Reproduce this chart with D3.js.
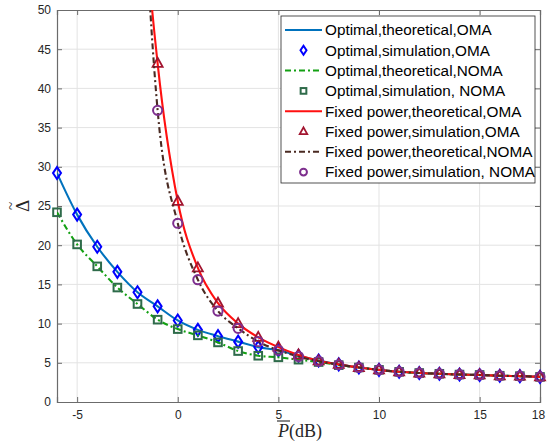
<!DOCTYPE html>
<html><head><meta charset="utf-8">
<script src="https://cdn.jsdelivr.net/npm/d3@7"></script>
<style>body{margin:0;background:#fff}svg{display:block}</style>
</head><body>
<svg id="c" width="548" height="442"></svg>
<script>
// ---- data ----
const xOpt = [-6,-5,-4,-3,-2,-1,0,1,2,3,4,5,6,7,8,9,10,11,12,13,14,15,16,17,18];
const optOMA  = [29.2,23.9,19.8,16.6,14.0,12.2,10.4,9.2,8.4,7.7,7.0,6.6,5.9,5.3,4.8,4.4,4.1,3.85,3.7,3.6,3.5,3.45,3.35,3.3,3.2];
const optNOMA = [24.2,20.1,17.3,14.6,12.5,10.5,9.3,8.5,7.6,6.5,5.9,5.7,5.4,5.1,4.7,4.4,4.1,3.85,3.7,3.6,3.5,3.45,3.35,3.3,3.2];
const xFixedSim = [-1,0,1,2,3,4,5,6,7,8,9,10,11,12,13,14,15,16,17,18];
const fixedOMASim  = [43.2,25.6,17.1,12.6,10.0,8.25,7.0,6.0,5.25,4.8,4.4,4.1,3.85,3.7,3.6,3.5,3.45,3.35,3.3,3.2];
const fixedNOMASim = [37.2,22.8,15.6,11.6,9.4,7.7,6.6,5.8,5.2,4.75,4.4,4.1,3.85,3.7,3.6,3.5,3.45,3.35,3.3,3.2];
const xFixedTheory = [-2,-1.5,-1,0,1,2,3,4,5,6,7,8,9,10,11,12,13,14,15,16,17,18];
const fixedOMATheory  = [80,57,43.2,25.6,17.1,12.6,10.0,8.25,7.0,6.0,5.25,4.8,4.4,4.1,3.85,3.7,3.6,3.5,3.45,3.35,3.3,3.2];
const fixedNOMATheory = [85,56,37.2,22.8,15.6,11.6,9.4,7.7,6.6,5.8,5.2,4.75,4.4,4.1,3.85,3.7,3.6,3.5,3.45,3.35,3.3,3.2];
const xTicks = [-5,0,5,10,15,18];
const yTicks = [0,5,10,15,20,25,30,35,40,45,50];
const legendLabels = ["Optimal,theoretical,OMA","Optimal,simulation,OMA","Optimal,theoretical,NOMA","Optimal,simulation, NOMA",
  "Fixed power,theoretical,OMA","Fixed power,simulation,OMA","Fixed power,theoretical,NOMA","Fixed power,simulation, NOMA"];

// ---- layout ----
const L = 57, R = 540, T = 10, B = 402;
const svg = d3.select("#c");
const x = d3.scaleLinear().domain([-6,18]).range([L,R]);
const y = d3.scaleLinear().domain([0,50]).range([B,T]);
const font = "'Liberation Sans', Arial, Helvetica, sans-serif";

// grid
const grid = svg.append("g");
grid.selectAll("line.gx").data([-5,0,5,10,15]).join("line")
  .attr("x1",d=>x(d)).attr("x2",d=>x(d)).attr("y1",T).attr("y2",B)
  .attr("stroke","#e3e3e3").attr("stroke-width",1);
grid.selectAll("line.gy").data(yTicks.filter(d=>d>0&&d<50)).join("line")
  .attr("y1",d=>y(d)).attr("y2",d=>y(d)).attr("x1",L).attr("x2",R)
  .attr("stroke","#e3e3e3").attr("stroke-width",1);

// axes
const axisColor = "#262626";
const fmt = d=>String(d);
const xb = svg.append("g").attr("transform",`translate(0,${B})`)
  .call(d3.axisBottom(x).tickValues(xTicks).tickSize(-5).tickPadding(8).tickFormat(fmt));
const xt = svg.append("g").attr("transform",`translate(0,${T})`)
  .call(d3.axisTop(x).tickValues(xTicks).tickSize(-5).tickFormat(""));
const yl = svg.append("g").attr("transform",`translate(${L},0)`)
  .call(d3.axisLeft(y).tickValues(yTicks).tickSize(-5).tickPadding(6).tickFormat(fmt));
const yr = svg.append("g").attr("transform",`translate(${R},0)`)
  .call(d3.axisRight(y).tickValues(yTicks).tickSize(-5).tickFormat(""));
[xb,xt,yl,yr].forEach(g=>{
  g.selectAll("path.domain").attr("stroke","#6b6b6b").attr("stroke-width",1.2);
  g.selectAll(".tick line").attr("stroke","#6b6b6b");
  g.selectAll(".tick text").attr("fill",axisColor).attr("font-family",font).attr("font-size",12);
});
xb.selectAll(".tick text").filter(d=>d===18).attr("dx",-2);

// clip
svg.append("clipPath").attr("id","clip").append("rect")
  .attr("x",L).attr("y",T).attr("width",R-L).attr("height",B-T);

const lineGen = (xs)=>d3.line().x((d,i)=>x(xs[i])).y(d=>y(d)).curve(d3.curveMonotoneX);

const series = [
  {xs:xOpt, ys:optOMA, color:"#0072BD", dash:null},
  {xs:xOpt, ys:optNOMA, color:"#13A013", dash:"6,3,2,3"},
  {xs:xFixedTheory, ys:fixedOMATheory, color:"#FF1010", dash:null},
  {xs:xFixedTheory, ys:fixedNOMATheory, color:"#4A2A22", dash:"6,3,2,3"}
];

const sims = [
  {xs:xOpt, ys:optOMA, color:"#0000FF", type:"diamond"},
  {xs:xOpt, ys:optNOMA, color:"#2E6B4A", type:"square"},
  {xs:xFixedSim, ys:fixedOMASim, color:"#A2142F", type:"triangle"},
  {xs:xFixedSim, ys:fixedNOMASim, color:"#7E2F8E", type:"circle"}
];
function marker(g, type, cx, cy, color, s){
  s = s || 1;
  if(type==="diamond"){
    g.append("path").attr("d",`M${cx},${cy-6*s}L${cx+4*s},${cy}L${cx},${cy+6*s}L${cx-4*s},${cy}Z`)
      .attr("fill","none").attr("stroke",color).attr("stroke-width",2);
  } else if(type==="square"){
    g.append("rect").attr("x",cx-3.8*s).attr("y",cy-3.8*s).attr("width",7.6*s).attr("height",7.6*s)
      .attr("fill","none").attr("stroke",color).attr("stroke-width",2);
  } else if(type==="triangle"){
    g.append("path").attr("d",`M${cx},${cy-5.5*s}L${cx+5*s},${cy+3.5*s}L${cx-5*s},${cy+3.5*s}Z`)
      .attr("fill","none").attr("stroke",color).attr("stroke-width",1.8);
  } else {
    g.append("circle").attr("cx",cx).attr("cy",cy).attr("r",4.6*s)
      .attr("fill","none").attr("stroke",color).attr("stroke-width",2);
  }
}
[0,1,2,3].forEach(k=>{
  const s = series[k];
  const layer = svg.append("g");
  layer.append("g").attr("clip-path","url(#clip)").append("path").datum(s.ys).attr("d",lineGen(s.xs)).attr("fill","none")
    .attr("stroke",s.color).attr("stroke-width",2.1).attr("stroke-dasharray",s.dash);
  const m = sims[k];
  const mg = layer.append("g");
  m.ys.forEach((v,i)=>marker(mg,m.type,x(m.xs[i]),y(v),m.color));
});

// legend
const lg = svg.append("g");
const lx = 281, ly = 16, lw = 254, lh = 167;
lg.append("rect").attr("x",lx).attr("y",ly).attr("width",lw).attr("height",lh)
  .attr("fill","#fff").attr("stroke","#262626").attr("stroke-width",0.8);
legendLabels.forEach((lab,i)=>{
  const cy = ly + 14 + i*20.3;
  if(i%2===0){
    const s = series[i/2];
    lg.append("line").attr("x1",lx+4).attr("x2",lx+41).attr("y1",cy).attr("y2",cy)
      .attr("stroke",s.color).attr("stroke-width",2).attr("stroke-dasharray",s.dash);
  } else {
    const m = sims[(i-1)/2];
    marker(lg,m.type,lx+22.5,cy,m.color,0.75);
  }
  lg.append("text").attr("x",lx+44).attr("y",cy).attr("dy","0.35em")
    .attr("font-family",font).attr("font-size",15.3).attr("fill","#000").text(lab);
});

// axis labels
const xlab = svg.append("text").attr("x",300).attr("y",437).attr("text-anchor","middle")
  .attr("font-family","'Liberation Serif', serif").attr("font-size",18).attr("fill","#262626");
const pSpan = xlab.append("tspan").attr("font-style","italic").text("P");
xlab.append("tspan").text("(dB)");
{
  const ext = pSpan.node().getStartPositionOfChar(0);
  const w = pSpan.node().getComputedTextLength();
  svg.append("line").attr("x1",ext.x-1).attr("x2",ext.x+w+1).attr("y1",421).attr("y2",421)
    .attr("stroke","#262626").attr("stroke-width",1.1);
}
const yg = svg.append("g").attr("transform","translate(29,206) rotate(-90)");
yg.append("text").attr("x",0).attr("y",0).attr("text-anchor","middle")
  .attr("font-family","'Liberation Serif', serif").attr("font-size",19).attr("fill","#262626").text("Δ");
yg.append("text").attr("x",0).attr("y",-13).attr("text-anchor","middle")
  .attr("font-family","'Liberation Serif', serif").attr("font-size",15).attr("fill","#262626").text("~");
</script>
</body></html>
